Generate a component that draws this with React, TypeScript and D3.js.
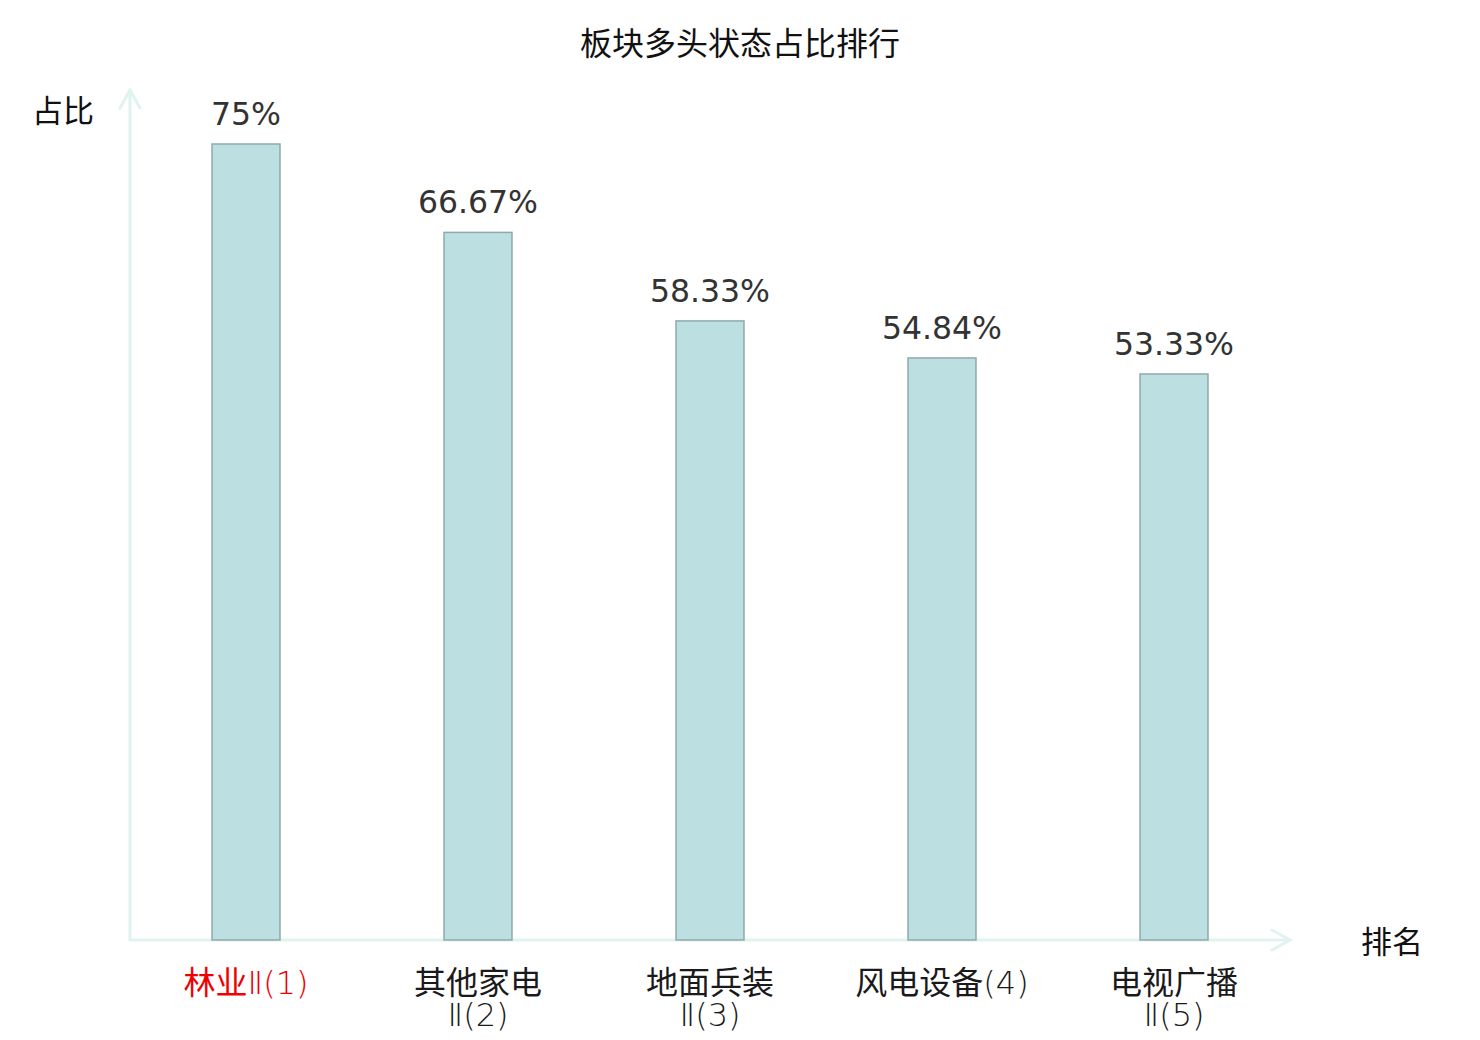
import React from "react";
import * as d3 from "d3";

const title = "板块多头状态占比排行";
const categories = ["林业Ⅱ(1)", "其他家电Ⅱ(2)", "地面兵装Ⅱ(3)", "风电设备(4)", "电视广播Ⅱ(5)"];
const values = [75, 66.67, 58.33, 54.84, 53.33];
const valueLabels = ["75%", "66.67%", "58.33%", "54.84%", "53.33%"];
const highlightIndex = 0;

const width = 1480;
const height = 1040;
const margin = { left: 130, right: 190, top: 144, bottom: 100 };

const cjk = "'Noto Sans CJK SC', 'DejaVu Sans', sans-serif";
const latin = "'DejaVu Sans', 'Noto Sans CJK SC', sans-serif";

// split "其他家电Ⅱ(2)" into the Chinese name and the thin "Ⅱ(2)" tail
const splitName = (s: string) => {
	const m = s.match(/^([\u4e00-\u9fff]+)(.*)$/);
	return m ? [m[1], m[2]] : [s, ""];
};

const Tail: React.FC<{ text: string; x?: number; dy?: number }> = ({ text, x, dy }) => (
	<tspan x={x} dy={dy} fontFamily={latin} fontWeight={200}>
		{text}
	</tspan>
);

const App: React.FC = () => {
	const baseY = height - margin.bottom;
	const x = d3
		.scaleBand<string>()
		.domain(categories)
		.range([margin.left, width - margin.right])
		.padding(0);
	const y = d3
		.scaleLinear()
		.domain([0, d3.max(values) as number])
		.range([baseY, margin.top]);
	const barW = x.bandwidth() * 0.293;
	const axisColor = "#e0f3f1";
	const xEnd = width - margin.right;
	const yTop = 90;

	return (
		<svg width={width} height={height} style={{ display: "block", margin: -8 }}>
			<rect width={width} height={height} fill="#fff" />
			<text x={width / 2} y={55} textAnchor="middle" fontSize={32} fontFamily={cjk} fill="#111">
				{title}
			</text>

			{/* axes */}
			<g stroke={axisColor} strokeWidth={3} fill="none" strokeLinecap="round">
				<line x1={margin.left} y1={baseY} x2={margin.left} y2={yTop} />
				<polyline points={`${margin.left - 10},${yTop + 18} ${margin.left},${yTop} ${margin.left + 10},${yTop + 18}`} />
				<line x1={margin.left} y1={baseY} x2={xEnd} y2={baseY} />
				<polyline points={`${xEnd - 18},${baseY - 10} ${xEnd},${baseY} ${xEnd - 18},${baseY + 10}`} />
			</g>
			<text x={63} y={122} textAnchor="middle" fontSize={31} fontFamily={cjk} fill="#111">
				占比
			</text>
			<text x={1392} y={953} textAnchor="middle" fontSize={31} fontFamily={cjk} fill="#111">
				排名
			</text>

			{categories.map((c, i) => {
				const cx = (x(c) as number) + x.bandwidth() / 2;
				const top = y(values[i]);
				const [name, tail] = splitName(c);
				const wrap = c.length > 7;
				return (
					<g key={c}>
						<rect
							x={cx - barW / 2}
							y={top}
							width={barW}
							height={baseY - top}
							fill="#bce0e2"
							stroke="#8eaaa9"
							strokeWidth={1.5}
						/>
						<text x={cx} y={top - 19} textAnchor="middle" fontSize={31.5} fontFamily={latin} fill="#333">
							{valueLabels[i]}
						</text>
						<text
							x={cx}
							y={994}
							textAnchor="middle"
							fontSize={32}
							fontFamily={cjk}
							fill={i === highlightIndex ? "#f00000" : "#1a1a1a"}
						>
							{wrap ? (
								<>
									<tspan x={cx}>{name}</tspan>
									<Tail text={tail} x={cx} dy={32} />
								</>
							) : (
								<>
									<tspan>{name}</tspan>
									<Tail text={tail} />
								</>
							)}
						</text>
					</g>
				);
			})}
		</svg>
	);
};

export default App;
